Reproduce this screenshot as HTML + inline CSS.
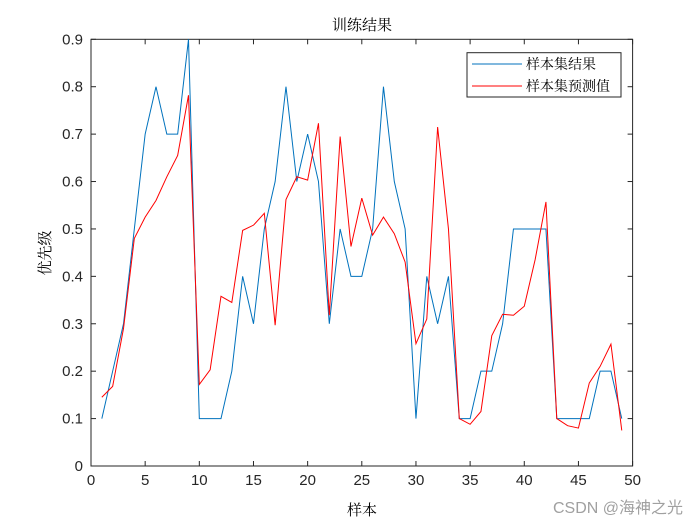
<!DOCTYPE html>
<html><head><meta charset="utf-8"><style>
body{margin:0;background:#fff;}
svg{display:block;font-family:"Liberation Sans","Noto Sans CJK SC",sans-serif;}
</style></head><body>
<svg id="chart" width="700" height="525" viewBox="0 0 700 525" xmlns="http://www.w3.org/2000/svg">
<rect width="700" height="525" fill="#fff"/>
<rect x="91" y="39.3" width="541.6" height="426.7" fill="#fff" stroke="#262626" stroke-width="1"/>
<g id="ticks"></g>
<g id="series"></g>
<text x="362" y="30" text-anchor="middle" font-size="15" font-family="'Noto Serif CJK SC','Noto Sans CJK SC',serif" fill="#000">训练结果</text>
<text x="362" y="515" text-anchor="middle" font-size="15" font-family="'Noto Serif CJK SC','Noto Sans CJK SC',serif" fill="#000">样本</text>
<text transform="translate(50,253) rotate(-90)" text-anchor="middle" font-size="15" font-family="'Noto Serif CJK SC','Noto Sans CJK SC',serif" fill="#000">优先级</text>
<g>
<rect x="467" y="52.7" width="154" height="44.3" fill="#fff" stroke="#262626" stroke-width="1"/>
<line x1="472" y1="64" x2="522" y2="64" stroke="#0072BD" stroke-width="1"/>
<text x="526" y="69" font-size="14" font-family="'Noto Serif CJK SC','Noto Sans CJK SC',serif">样本集结果</text>
<line x1="472" y1="86" x2="522" y2="86" stroke="#FF0000" stroke-width="1"/>
<text x="526" y="91" font-size="14" font-family="'Noto Serif CJK SC','Noto Sans CJK SC',serif">样本集预测值</text>
</g>
<text x="553" y="513" font-size="16" fill="#a0a0a0">CSDN @海神之光</text>
</svg>
<script>
const xTicks=[0,5,10,15,20,25,30,35,40,45,50];
const yTicks=[0,0.1,0.2,0.3,0.4,0.5,0.6,0.7,0.8,0.9];
const yTickLabels=["0","0.1","0.2","0.3","0.4","0.5","0.6","0.7","0.8","0.9"];
const actual=[0.1,0.2,0.3,0.5,0.7,0.8,0.7,0.7,0.9,0.1,0.1,0.1,0.2,0.4,0.3,0.5,0.6,0.8,0.6,0.7,0.6,0.3,0.5,0.4,0.4,0.5,0.8,0.6,0.5,0.1,0.4,0.3,0.4,0.1,0.1,0.2,0.2,0.3,0.5,0.5,0.5,0.5,0.1,0.1,0.1,0.1,0.2,0.2,0.1];
const predicted=[0.145,0.168,0.29,0.48,0.525,0.56,0.61,0.655,0.782,0.172,0.203,0.358,0.345,0.497,0.508,0.533,0.297,0.562,0.61,0.603,0.723,0.318,0.695,0.463,0.565,0.487,0.525,0.49,0.43,0.258,0.31,0.715,0.5,0.1,0.088,0.115,0.275,0.32,0.318,0.337,0.435,0.557,0.1,0.085,0.08,0.175,0.21,0.257,0.075];
const X0=91,X1=632.6,Y0=466,Y1=39.3;
const xs=v=>X0+(v-0)/(50-0)*(X1-X0);
const ys=v=>Y0-(v-0)/(0.9-0)*(Y0-Y1);
const NS="http://www.w3.org/2000/svg";
const tg=document.getElementById('ticks');
function mk(tag,attrs,parent){const e=document.createElementNS(NS,tag);for(const k in attrs)e.setAttribute(k,attrs[k]);parent.appendChild(e);return e;}
xTicks.forEach(t=>{
 const x=xs(t);
 const a=mk('line',{x1:x,y1:Y0,x2:x,y2:Y0-5,stroke:'#262626'},tg);
 
 
 const b=mk('line',{x1:x,y1:Y1,x2:x,y2:Y1+5,stroke:'#262626'},tg);
 
 
 const l=mk('text',{x:x,y:Y0+19,'text-anchor':'middle','font-size':'15',fill:'#262626'},tg);
 l.textContent=String(t);
 
 
});
yTicks.forEach((t,i)=>{
 const y=ys(t);
 const a=mk('line',{x1:X0,y1:y,x2:X0+5,y2:y,stroke:'#262626'},tg);
 
 
 const b=mk('line',{x1:X1,y1:y,x2:X1-5,y2:y,stroke:'#262626'},tg);
 
 
 const l=mk('text',{x:X0-8,y:y+5,'text-anchor':'end','font-size':'15',fill:'#262626'},tg);
 l.textContent=yTickLabels[i];
 
 
});
const sg=document.getElementById('series');
function line(data,color,name){
 const pts=data.map((v,i)=>xs(i+1).toFixed(2)+','+ys(v).toFixed(2)).join(' ');
 const p=mk('polyline',{points:pts,fill:'none',stroke:color,'stroke-width':'1'},sg);
 
 
}
line(actual,'#0072BD','actual-series-line');
line(predicted,'#FF0000','predicted-series-line');
</script>
</body></html>
